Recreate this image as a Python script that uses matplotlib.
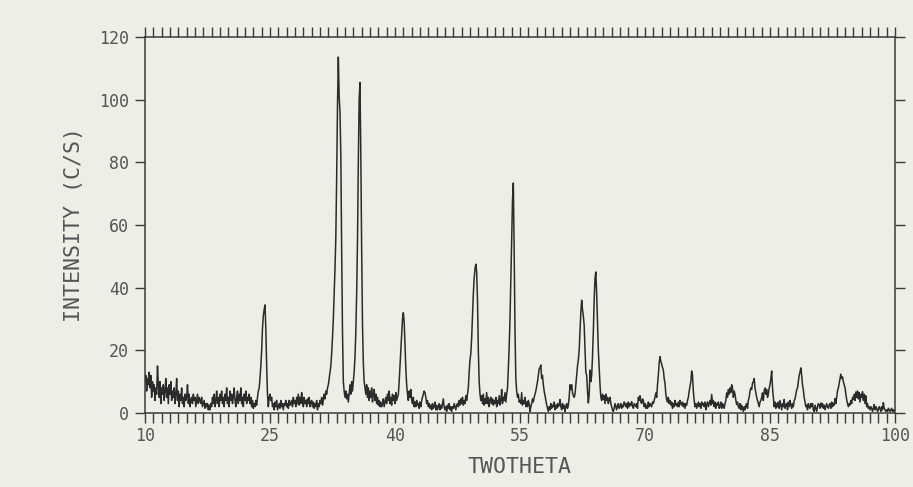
import numpy as np
import matplotlib
matplotlib.use('Agg')
import matplotlib.pyplot as plt
from matplotlib.ticker import MultipleLocator

# scan settings: 10-100 deg, 0.1 deg step
start_angle = 10.0
step = 0.1

# intensity (c/s), one row per degree (10 values each)
intensity = [
    10, 12, 7, 11, 9, 13, 8, 12, 5, 10,            # 10
    7, 9, 4, 8, 6, 15, 9, 5, 10, 3,                # 11
    8, 6, 9, 4, 7, 11, 5, 8, 3, 9,                 # 12
    6, 10, 4, 7, 5, 8, 3, 6, 11, 4,                # 13
    7, 2, 6, 4, 8, 3, 5, 2, 6, 4,                  # 14
    5, 9, 3, 6, 2, 4, 5, 3, 6, 4,                  # 15
    5, 2, 4, 6, 3, 5, 4, 3, 5, 2,                  # 16
    3, 4, 1.5, 3, 2, 3, 1, 2.5, 1, 3,              # 17
    2, 5, 3, 6, 2, 4, 7, 3, 5, 2,                  # 18
    6, 4, 7, 3, 5, 2, 6, 4, 8, 3,                  # 19
    5, 2, 7, 4, 6, 3, 5, 8, 4, 2,                  # 20
    5, 7, 3, 6, 4, 8, 3, 5, 2, 6,                  # 21
    4, 7, 3, 5, 4, 6, 3, 5, 2, 4,                  # 22
    1.5, 3, 2, 4, 2.5, 5, 7, 8, 11, 15,            # 23
    20, 27, 31, 33, 34.5, 27, 15, 6, 2, 5,         # 24
    6, 4, 5, 2, 3, 1, 3.5, 2, 4, 1,                # 25
    2, 3, 1.5, 4, 2, 3, 1, 3, 2.5, 4,              # 26
    2, 3, 1.5, 4, 2.5, 3, 4, 2, 5, 3,              # 27
    4, 2, 5, 3, 6, 2.5, 5, 3, 6.5, 4,              # 28
    2, 5, 3, 4, 2, 4.5, 3, 5, 2, 3.5,              # 29
    4, 2, 3.5, 1.5, 3, 2, 4, 1, 3, 2,              # 30
    4, 3, 5, 2.5, 4, 6, 4.5, 7, 6, 8,              # 31
    9, 11, 13, 15, 19, 24, 30, 38, 46, 56,         # 32
    75, 98, 113.6, 101, 96, 82, 52, 26, 10, 7,     # 33
    5, 7, 4.5, 6, 3.5, 6, 9, 6, 10, 7,             # 34
    10, 13, 18, 26, 38, 55, 80, 100, 105.5, 82,    # 35
    52, 28, 16, 10, 8, 6, 9, 5, 8, 4,              # 36
    7, 5, 8, 3.5, 6, 7.5, 4, 6, 3, 5,              # 37
    2.5, 4, 2, 3.5, 2, 3, 4.5, 2, 3.5, 5,          # 38
    3, 6, 4, 7, 3, 5, 2.5, 6, 4, 5.5,              # 39
    3, 6.5, 4, 5, 6, 10, 15, 20, 25, 30,           # 40
    32, 29, 22, 14, 9, 6, 4, 7, 5, 7.5,            # 41
    4, 3, 5, 2, 3.5, 2, 4, 2.5, 3, 1.5,            # 42
    3.5, 2, 4, 5, 6, 7, 6.5, 5, 3, 4,              # 43
    2, 3, 1.5, 2.5, 1, 3, 1.5, 2, 3.5, 1,          # 44
    2.5, 1, 2, 3, 1, 2.5, 1.5, 3, 4.5, 2,          # 45
    1, 2, 0.5, 2.5, 1.5, 3, 1, 2, 0.5, 2,          # 46
    1.5, 3, 2, 1, 2.5, 3, 2, 4, 2.5, 4.5,          # 47
    3, 5, 2.5, 4, 3, 5.5, 4, 6, 8, 13,             # 48
    17, 19, 24, 31, 38, 43, 46, 47.5, 45, 36,      # 49
    20, 10, 6, 4, 5.5, 3, 6, 2.5, 4.5, 3,          # 50
    6.5, 3, 5, 2, 4, 5, 3, 4.5, 2.5, 4,            # 51
    3, 5, 2, 4, 3, 5.5, 2.5, 4, 7.5, 3,            # 52
    5, 4, 6.5, 3.5, 6, 8, 14, 21, 30, 42,          # 53
    55, 68, 73.4, 52, 26, 11, 7, 5, 6, 3.5,        # 54
    4, 3, 6.5, 2.5, 4, 3, 5, 2, 3.5, 2,            # 55
    4, 3, 0.5, 2, 3, 4.5, 3.5, 5, 6, 7,            # 56
    8.5, 10, 12, 14, 14.5, 15.3, 11, 12, 9, 7,     # 57
    5.5, 4, 2.6, 1.5, 0.5, 2, 1, 3, 1.5, 2.5,      # 58
    2, 3.5, 1, 2.5, 1.5, 3, 2, 2.5, 4.3, 2,        # 59
    1, 3, 1.5, 2.5, 0.5, 2, 3, 1.5, 2.5, 5,        # 60
    9, 7.5, 9, 6.5, 5.5, 5, 6, 9, 12, 15,          # 61
    17, 20, 26, 32, 36, 33, 31, 28, 20, 13,        # 62
    12, 7, 3.2, 6, 13.7, 10, 12, 18, 26, 36,       # 63
    43, 45, 38, 29, 20, 14.7, 9, 5, 4, 6,          # 64
    4.3, 5.5, 3, 6, 4, 5, 3, 4.5, 5, 3,            # 65
    2, 1, 0.5, 1.5, 3, 2, 1, 2.5, 3, 1.5,          # 66
    2, 3, 1.5, 2.5, 2, 3.5, 3, 2, 3, 1.5,          # 67
    3.5, 2, 3, 2.5, 3.6, 2, 1.5, 3, 2.5, 2,        # 68
    3, 1.5, 5, 4, 5.5, 3.5, 3, 4.5, 4, 2,          # 69
    3, 1.5, 2.5, 1.5, 3.5, 2, 3, 2.5, 2, 3.5,      # 70
    3, 4, 5, 6.4, 5, 9, 12, 16, 18, 16.5,          # 71
    15.6, 14.5, 13.7, 11, 9.5, 6, 4.3, 3.5, 5, 3,  # 72
    4, 2.5, 3.5, 1.5, 3, 2, 4, 2.5, 3, 2,          # 73
    3.5, 2, 4, 3, 2.5, 3.5, 2, 3, 1.5, 3,          # 74
    2.5, 4, 5, 7, 8.5, 10, 13.4, 12, 7, 4,         # 75
    2, 3, 1.5, 2.5, 3.5, 2, 3, 1.5, 3.5, 2.5,      # 76
    3, 2, 3.5, 1, 2.5, 3.5, 2, 3, 4, 2.5,          # 77
    5.9, 3, 4, 2, 3.5, 1.5, 3, 2.5, 3.5, 1.5,      # 78
    2, 3.5, 1.5, 3, 2.5, 1.5, 3, 4, 6.4, 5,        # 79
    7.4, 6, 8, 6.5, 9, 8, 5, 7, 6, 4,              # 80
    2.7, 3.5, 2, 1.5, 3, 1, 2.5, 1.5, 0.5, 2,      # 81
    1, 2.5, 3, 1.5, 4, 5, 7, 8, 7.5, 9.5,          # 82
    10, 11, 8, 6.4, 5, 4, 3, 2, 3.5, 4,            # 83
    5, 6.4, 4, 7, 8, 6, 7.5, 5, 6, 8,              # 84
    9, 11, 13.4, 8, 5, 2, 3.5, 1.5, 3, 2,          # 85
    3.5, 1.5, 4, 2.5, 1, 3, 2, 4.3, 1.5, 2.5,      # 86
    3, 1, 3.5, 2, 4, 2.5, 1.5, 3, 2, 4,            # 87
    4.5, 6, 7.4, 8, 10, 12, 13, 14.4, 12, 9,       # 88
    7.4, 5, 3.5, 2, 2.5, 1, 3, 2, 1.5, 3,          # 89
    2, 3, 1, 0.5, 2.5, 1.5, 0.5, 2, 3, 2.5,        # 90
    1.5, 3.2, 2, 3, 1.5, 2.5, 1, 2, 3, 2,          # 91
    1.5, 2.5, 3, 1.5, 3.5, 2, 3, 2.5, 4.6, 3,      # 92
    5, 7, 8, 9.5, 11, 12.4, 11, 11.5, 10, 9,       # 93
    8, 6, 4.3, 3, 2, 3, 2.5, 4, 3, 5,              # 94
    4.3, 6, 4, 6.7, 5, 7, 4.5, 6.5, 3.5, 6,        # 95
    5, 6.8, 4, 6, 3, 5.5, 2, 3, 1.5, 2,            # 96
    1, 2, 1.5, 0.5, 1.5, 2.7, 1, 2, 1.5, 0.5,      # 97
    1, 2, 1.5, 0.5, 2, 1, 3.3, 1.5, 1, 0.5,        # 98
    1, 0.5, 1.5, 1, 0.5, 1, 1.5, 0.5, 1, 0.5,      # 99
    1,                                             # 100
]

x_major = [10, 25, 40, 55, 70, 85, 100]
y_major = [0, 20, 40, 60, 80, 100, 120]

two_theta = start_angle + step * np.arange(len(intensity))

paper = '#eeeee6'
ink = '#3a3a3a'
text_ink = '#555555'

plt.rcParams['font.family'] = ['DejaVu Sans Mono']

fig = plt.figure(figsize=(9.13, 4.87), dpi=100, facecolor=paper)
ax = fig.add_axes([0.1588, 0.152, 0.8215, 0.772])
ax.set_facecolor(paper)

ax.plot(two_theta, intensity, color='#2b2b2b', lw=1.1)

ax.set_xlim(10, 100)
ax.set_ylim(0, 120)
ax.set_xticks(x_major)
ax.set_yticks(y_major)
ax.xaxis.set_minor_locator(MultipleLocator(1))

for side in ['left', 'right', 'top', 'bottom']:
    ax.spines[side].set_color(ink)
    ax.spines[side].set_linewidth(1.1)

# plotter style: ticks outward on every side, labels only bottom/left
ax.tick_params(which='both', direction='out', top=True, right=True,
               color=ink, width=1.0)
ax.tick_params(which='major', length=7, labelsize=12, labelcolor=text_ink)
ax.tick_params(which='minor', length=7)
ax.tick_params(axis='x', which='both', labeltop=False, pad=3)
ax.tick_params(axis='y', labelright=False, pad=4.5)

ax.set_xlabel('TWOTHETA', fontsize=15.5, color=text_ink, labelpad=9)
ax.set_ylabel('INTENSITY (C/S)', fontsize=15.5, color=text_ink, labelpad=11)

fig.savefig('out.png', dpi=100, facecolor=paper)
